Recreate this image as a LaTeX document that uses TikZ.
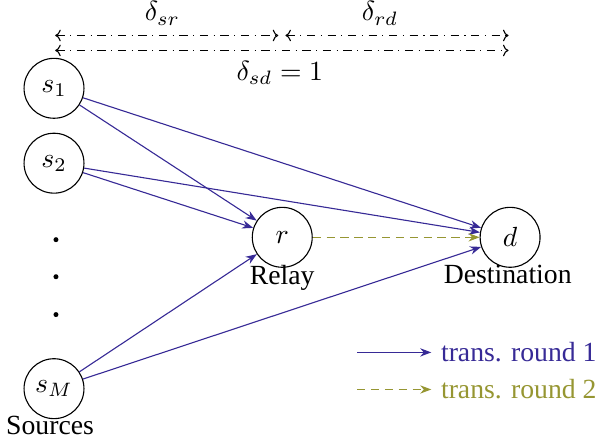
\documentclass[tikz,border=0pt]{standalone}
\usepackage{fontspec}
\setmainfont{Liberation Serif}
\usetikzlibrary{arrows.meta,positioning}
\definecolor{roundone}{RGB}{55,42,150}
\definecolor{roundtwo}{RGB}{150,150,50}

\begin{document}
\begin{tikzpicture}[
    station/.style={draw, circle, minimum size=0.76cm, inner sep=0pt},
    tx1/.style={roundone, -{Stealth[length=4pt,width=3pt]}},
    tx2/.style={roundtwo, dash pattern=on 3pt off 2pt, -{Stealth[length=4pt,width=3pt]}},
    span/.style={dash dot, {To[length=2pt]}-{To[length=2pt]}}
]
\useasboundingbox (0,0) rectangle (7.75,5.6);

% Nodes
\node[station] (s1) at (0.685,4.48) {$s_1$};
\node[station] (s2) at (0.685,3.53) {$s_2$};
\node[station] (sM) at (0.685,0.67) {$s_M$};
\node[station] (r) at (3.58,2.59) {$r$};
\node[station] (d) at (6.47,2.59) {$d$};
\foreach \y in {2.56,2.09,1.61}
    \fill (0.71,\y) circle (0.9pt);

% Labels
\node[below=-4.5pt of r] (relay) {Relay};
\node[below=-4.5pt of d, xshift=-0.03cm] (dest) {Destination};
\node[below=-4.5pt of sM, xshift=-0.05cm] (src) {Sources};

% Distances
\coordinate (a1) at (0.70,5.15);
\coordinate (a2) at (3.53,5.15);
\coordinate (a3) at (3.62,5.15);
\coordinate (a4) at (6.45,5.15);
\coordinate (b1) at (0.70,4.96);
\coordinate (b2) at (6.45,4.96);
\draw[span] (a1) -- (a2);
\draw[span] (a3) -- (a4);
\draw[span] (b1) -- (b2);
\node (dsr) at (2.06,5.43) {$\delta_{sr}$};
\node (drd) at (4.82,5.43) {$\delta_{rd}$};
\node (dsd) at (3.55,4.68) {$\delta_{sd}=1$};

% Round 1
\draw[tx1] (s1) -- (r);
\draw[tx1] (s1) -- (d);
\draw[tx1] (s2) -- (r);
\draw[tx1] (s2) -- (d);
\draw[tx1] (sM) -- (r);
\draw[tx1] (sM) -- (d);

% Round 2
\draw[tx2] (r) -- (d);

% Legend
\coordinate (l1) at (4.53,1.13);
\coordinate (l2) at (4.53,0.66);
\node[roundone, anchor=west] (t1) at (5.47,1.13) {trans. round 1};
\node[roundtwo, anchor=west] (t2) at (5.47,0.66) {trans. round 2};
\draw[tx1] (l1) -- (t1.west);
\draw[tx2] (l2) -- (t2.west);

\end{tikzpicture}
\end{document}
